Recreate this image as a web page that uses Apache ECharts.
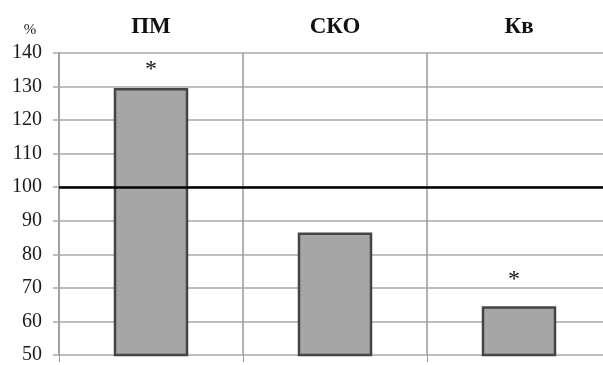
<!DOCTYPE html>
<html>
<head>
<meta charset="utf-8">
<style>
  html, body { margin: 0; padding: 0; background: #ffffff; overflow: hidden; }
  #chart { width: 612px; height: 365px; }
</style>
<script src="https://cdn.jsdelivr.net/npm/echarts@6/dist/echarts.min.js"></script>
</head>
<body>
<div id="chart"></div>
<script>
// Indicator groups shown across the top
const categories = ['ПМ', 'СКО', 'Кв'];
// Relative values, % of the reference level
const values = [129.6, 86.5, 64.5];
// Significance marks drawn above the bars
const marks = ['*', '', '*'];
// Reference level drawn as a black line
const referenceLevel = 100;
// Value axis ticks
const yMin = 50;
const yMax = 140;
const yStep = 10;

const serif = '"Liberation Serif", "DejaVu Serif", serif';

// Per-bar placement of the significance marks
const markDistance = [6, 16, 15];
const markShift = [[0, 0], [0, 0], [-5, 0]];

const barData = values.map((v, i) => ({
  value: v,
  label: {
    show: marks[i] !== '',
    formatter: marks[i],
    position: 'top',
    distance: markDistance[i],
    offset: markShift[i],
    fontFamily: serif,
    fontSize: 24,
    color: '#111111'
  }
}));

const chart = echarts.init(document.getElementById('chart'), null, { renderer: 'canvas' });

chart.setOption({
  animation: false,
  backgroundColor: '#ffffff',
  // the last category column runs a little past the right edge of the window
  grid: { left: 59, top: 53, right: 1, bottom: 7, containLabel: false },
  xAxis: [
    {
      type: 'category',
      data: categories,
      position: 'bottom',
      boundaryGap: true,
      axisLine: { show: false },
      axisTick: { show: true, length: 7, inside: false, lineStyle: { color: '#9a9a9a', width: 1 } },
      axisLabel: { show: false },
      splitLine: { show: true, lineStyle: { color: '#9a9a9a', width: 1.5 } }
    },
    {
      type: 'category',
      data: categories,
      position: 'top',
      boundaryGap: true,
      axisLine: { show: false },
      axisTick: { show: false },
      splitLine: { show: false },
      axisLabel: {
        show: true,
        margin: 14,
        fontFamily: serif,
        fontWeight: 'bold',
        fontSize: 23,
        color: '#111111'
      }
    }
  ],
  yAxis: {
    type: 'value',
    min: yMin,
    max: yMax,
    interval: yStep,
    name: '%',
    nameLocation: 'end',
    nameGap: 15,
    nameTextStyle: {
      fontFamily: serif,
      fontSize: 15,
      color: '#222222',
      align: 'center',
      padding: [0, 58, 0, 0]
    },
    axisLine: { show: true, lineStyle: { color: '#9a9a9a', width: 1.5 } },
    axisTick: { show: true, length: 6, inside: false, lineStyle: { color: '#aaaaaa', width: 1.5 } },
    axisLabel: {
      margin: 17,
      fontFamily: serif,
      fontSize: 20,
      color: '#1a1a1a'
    },
    splitLine: { show: true, lineStyle: { color: '#aaaaaa', width: 1.5 } }
  },
  series: [
    {
      type: 'bar',
      xAxisIndex: 0,
      data: barData,
      barWidth: '40.5%',
      itemStyle: { color: '#a6a6a6', borderColor: '#454545', borderWidth: 2.5 },
      markLine: {
        silent: true,
        symbol: ['none', 'none'],
        label: { show: false },
        lineStyle: { color: '#000000', width: 2.5, type: 'solid' },
        data: [{ yAxis: referenceLevel }]
      },
      z: 2
    }
  ]
});
</script>
</body>
</html>
